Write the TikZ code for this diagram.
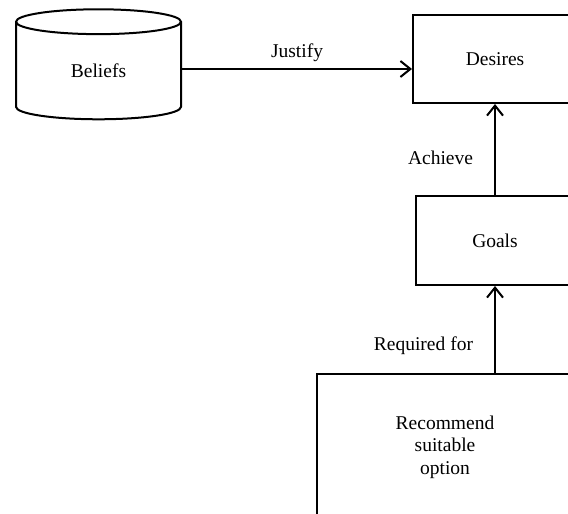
\documentclass[tikz,border=0pt]{standalone}
\usepackage{fontspec}
\setmainfont{Liberation Serif}
\usetikzlibrary{shapes.geometric, arrows.meta, positioning}

\begin{document}
\begin{tikzpicture}[
    x=1pt, y=-1pt,
    node distance=91pt and 232pt,
    font=\fontsize{19.5}{22.5}\selectfont,
    box/.style={rectangle, draw, line width=2pt, align=center, inner sep=6.5pt},
    store/.style={cylinder, shape border rotate=90, draw, line width=2pt, aspect=0.45,
                  minimum width=165pt, minimum height=110pt, inner sep=0pt},
    e/.style={-{Straight Barb[length=10pt, width=16pt]}, line width=2pt},
    lbl/.style={inner sep=6.5pt}
]
\useasboundingbox (0,0) rectangle (568,514);
\node[store] (beliefs) at (98.5,71) {Beliefs};
\node[box, minimum width=164pt, minimum height=88pt] (desires) at (495,59) {Desires};
\node[box, minimum width=158pt, minimum height=89pt, below=91pt of desires] (goals) {Goals};
\node[box, minimum width=256pt, minimum height=146pt, below=87pt of goals, xshift=-50pt] (recommend)
    {Recommend\\suitable\\option};

\draw[e] ([yshift=2pt]beliefs.east) -- ([yshift=2pt]beliefs.east -| desires.west) node[lbl, midway, above] {Justify};
\draw[e] (goals) -- (desires) node[lbl, pos=0.41, left=14.5pt] {Achieve};
\draw[e] (goals.south |- recommend.north) -- (goals.south) node[lbl, pos=0.31, left=14.5pt] {Required for};
\end{tikzpicture}
\end{document}
